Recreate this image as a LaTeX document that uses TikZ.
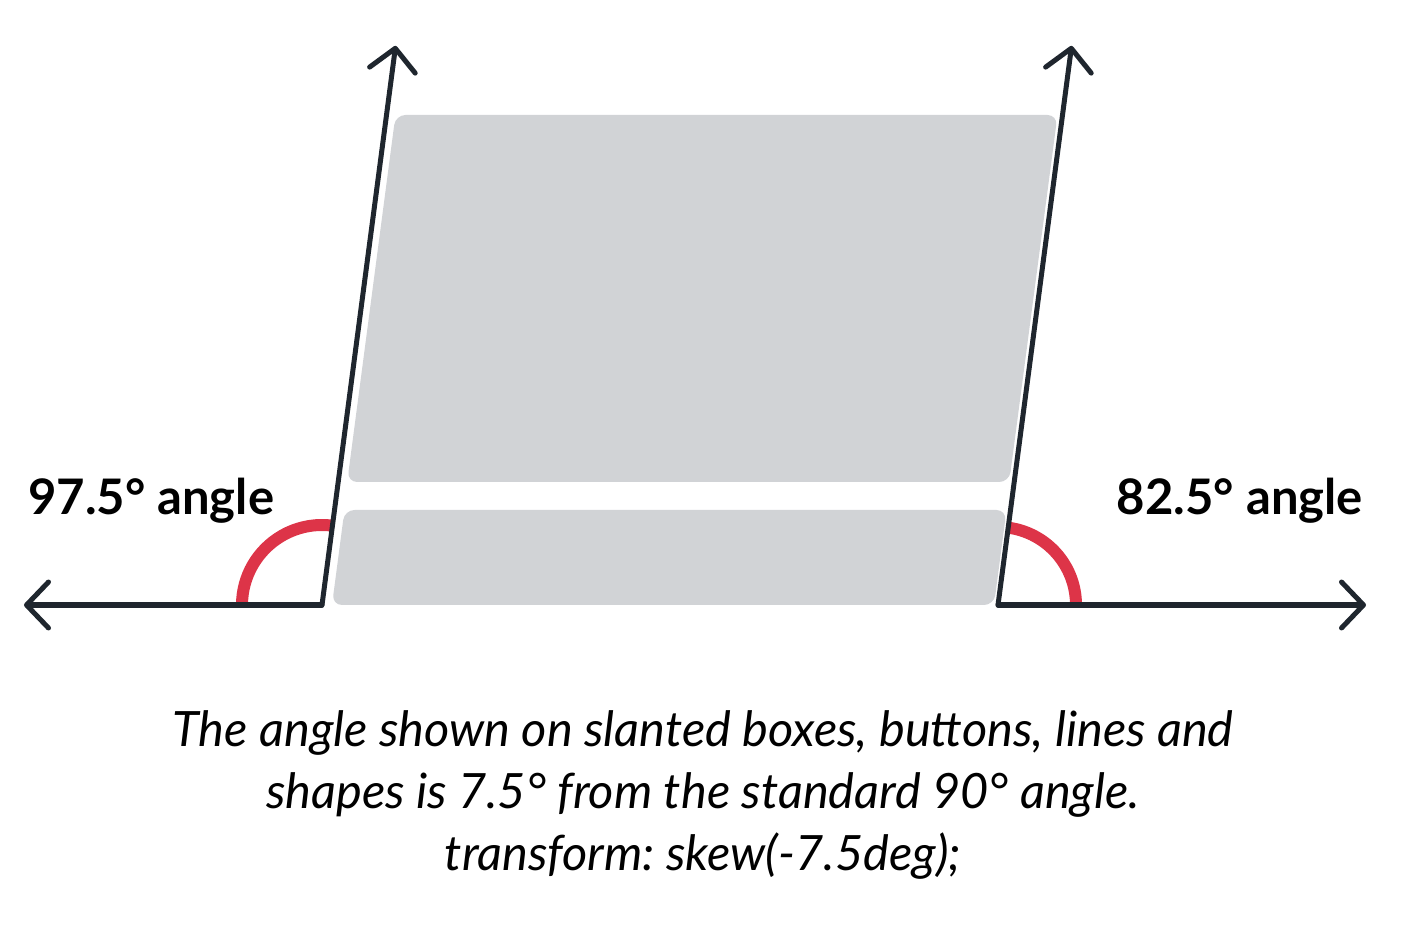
\documentclass[tikz,border=0pt]{standalone}
\usepackage{fontspec}
\setmainfont{Lato}
\usetikzlibrary{arrows.meta}
\definecolor{ink}{RGB}{31,38,46}
\definecolor{boxgray}{RGB}{209,211,214}
\definecolor{anglered}{RGB}{221,52,72}
\begin{document}
\frenchspacing
\begin{tikzpicture}[x=1pt,y=1pt,
    >={Straight Barb[length=22pt,width=46pt,round]},
    axis/.style={ink,line width=5pt,line cap=round},
    arcmark/.style={anglered,line width=12pt},
    slantbox/.style={fill=boxgray,rounded corners=10pt},
    anglelabel/.style={font=\bfseries\fontsize{49}{60}\selectfont,inner sep=0pt}]
    \useasboundingbox(0,0)rectangle(1404,924);
    % boxes skewed by 7.5 degrees
    \begin{scope}[shift={(0,319)},xslant=0.13165]
        \fill[slantbox](332,0)rectangle(994,95);
        \fill[slantbox](331,123)rectangle(993,490);
    \end{scope}
    \coordinate(lfoot)at(322,319);
    \coordinate(rfoot)at(998,319);
    \coordinate(lend)at(24,319);
    \coordinate(rend)at(1366,319);
    \coordinate(ltop)at([shift={(82.5:564)}]lfoot);
    \coordinate(rtop)at([shift={(82.5:564)}]rfoot);
    \draw[arcmark]([shift={(180:80)}]lfoot)arc(180:82.5:80);
    \draw[arcmark]([shift={(0:78)}]rfoot)arc(0:82.5:78);
    \draw[axis,->](lfoot)--(lend);
    \draw[axis,->](rfoot)--(rend);
    \draw[axis,->](lfoot)--(ltop);
    \draw[axis,->](rfoot)--(rtop);
    \node[anglelabel,anchor=base west](lefttext)at(28,409){97.5° angle};
    \node[anglelabel,anchor=base east](righttext)at(1363,409){82.5° angle};
    \node[font=\itshape\fontsize{48.7}{62}\selectfont,align=center,anchor=base,inner sep=0pt](caption)at(703,54)
        {The angle shown on slanted boxes, buttons, lines and\\
         shapes is 7.5° from the standard 90° angle.\\
         transform: skew(-7.5deg);};
\end{tikzpicture}
\end{document}
